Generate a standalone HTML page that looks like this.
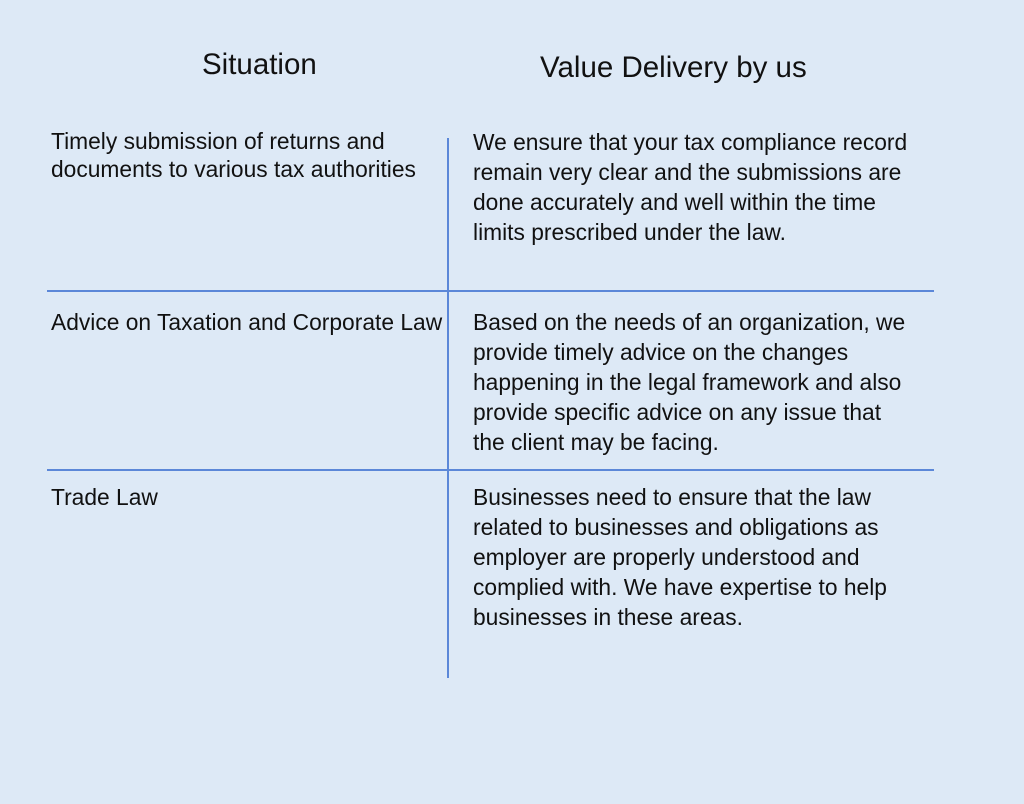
<!DOCTYPE html>
<html><head><meta charset="utf-8"><style>
body{margin:0;width:1024px;height:804px;background:#dde9f6;position:relative;overflow:hidden;font-family:"Liberation Sans",sans-serif;color:#111;}
.t{position:absolute;font-size:22.8px;line-height:30px;white-space:nowrap;}
.h{position:absolute;font-size:29.5px;white-space:nowrap}
.l{position:absolute;background:#5b87d8}
</style></head><body>
<div class="h" style="left:202px;top:48px">Situation</div>
<div class="h" style="left:540px;top:51px">Value Delivery by us</div>
<div class="l" style="left:447px;top:138px;width:2px;height:540px"></div>
<div class="l" style="left:47px;top:290px;width:887px;height:2px"></div>
<div class="l" style="left:47px;top:469px;width:887px;height:2px"></div>
<div class="t" style="left:51px;top:127px;line-height:28px">Timely submission of returns and<br>documents to various tax authorities</div>
<div class="t" style="left:473px;top:127px">We ensure that your tax compliance record<br>remain very clear and the submissions are<br>done accurately and well within the time<br>limits prescribed under the law.</div>
<div class="t" style="left:51px;top:307px">Advice on Taxation and Corporate Law</div>
<div class="t" style="left:473px;top:307px">Based on the needs of an organization, we<br>provide timely advice on the changes<br>happening in the legal framework and also<br>provide specific advice on any issue that<br>the client may be facing.</div>
<div class="t" style="left:51px;top:482px">Trade Law</div>
<div class="t" style="left:473px;top:482px">Businesses need to ensure that the law<br>related to businesses and obligations as<br>employer are properly understood and<br>complied with. We have expertise to help<br>businesses in these areas.</div>
</body></html>
